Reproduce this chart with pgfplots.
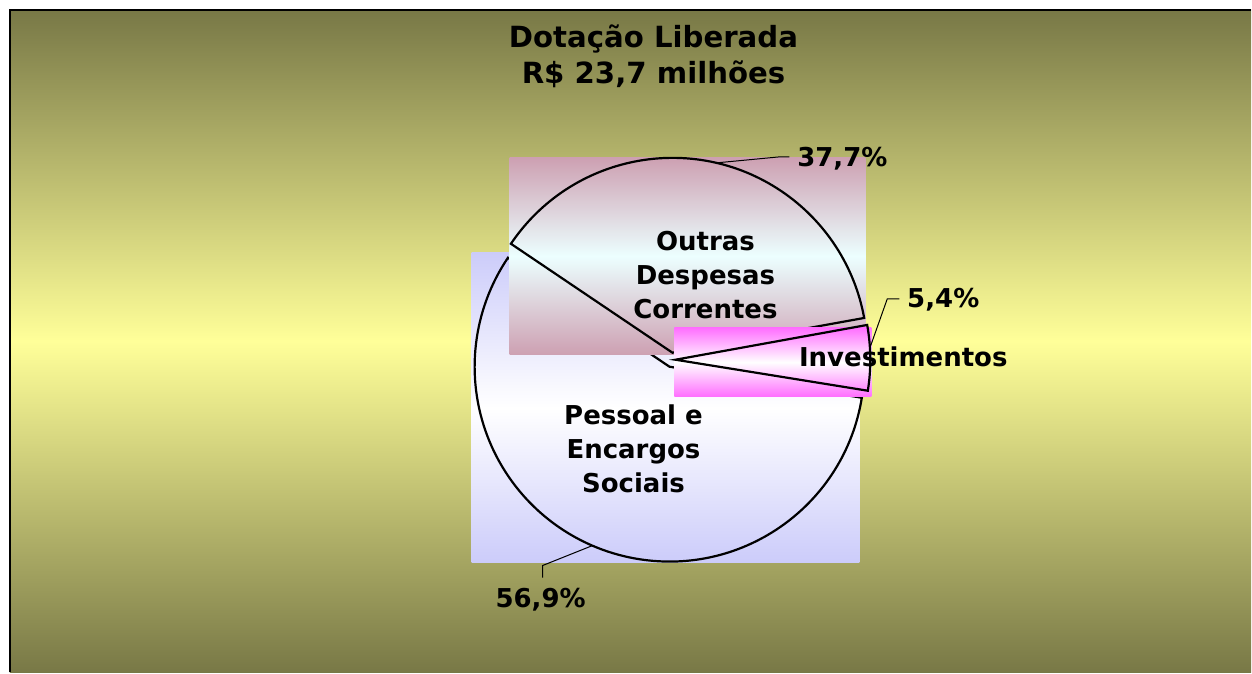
\documentclass[border=0pt]{standalone}
\usepackage{pgfplots}
\pgfplotsset{compat=1.18}
\usepackage{pgfplotstable}
\usepackage{fontspec}
\setmainfont{DejaVu Sans}
\definecolor{bgdark}{RGB}{120,120,70}
\definecolor{bglight}{RGB}{255,255,153}
\definecolor{mauve}{RGB}{205,160,178}
\definecolor{cyanl}{RGB}{236,255,255}
\definecolor{lav}{RGB}{204,204,250}
\definecolor{magl}{RGB}{255,110,255}
\pgfplotstableread{
label value
Outras 37.7
Investimentos 5.4
Pessoal 56.9
}\piedata
\begin{document}
\begin{tikzpicture}
\pgfplotstablegetelem{0}{value}\of\piedata \let\vO\pgfplotsretval
\pgfplotstablegetelem{1}{value}\of\piedata \let\vI\pgfplotsretval
\pgfplotstablegetelem{2}{value}\of\piedata \let\vP\pgfplotsretval
\pgfmathsetmacro{\aZ}{146}
\pgfmathsetmacro{\aA}{\aZ-3.6*\vO}
\pgfmathsetmacro{\aB}{\aA-3.6*\vI}
\pgfmathsetmacro{\aC}{\aB-3.6*\vP}
\begin{axis}[at={(0,0)}, anchor=south west, scale only axis,
  width=626pt, height=336.5pt, xmin=0, xmax=1252, ymin=0, ymax=673,
  y dir=reverse, axis lines=none, clip=false]
% background
\fill[white] (axis cs:0,0) rectangle (axis cs:1252,673);
\shade[top color=bgdark, bottom color=bgdark, middle color=bglight] (axis cs:10,10) rectangle (axis cs:1252,673);
\draw[black, line width=1pt] (axis cs:10,673) -- (axis cs:10,10) -- (axis cs:1252,10);
% Pessoal
\shade[top color=lav, bottom color=lav, middle color=white] (axis cs:472,253) rectangle (axis cs:860,563);
\draw[line width=1.1pt] (axis cs:670,367) -- ++(\aB:97.5pt) arc[start angle=\aB, end angle=\aC, radius=97.5pt] -- cycle;
% Outras
\shade[top color=mauve, bottom color=mauve, middle color=cyanl] (axis cs:510,158) rectangle (axis cs:866,355);
\draw[line width=1.1pt] (axis cs:673,353) -- ++(\aZ:97.5pt) arc[start angle=\aZ, end angle=\aA, radius=97.5pt] -- cycle;
% Investimentos
\shade[top color=magl, bottom color=magl, middle color=white] (axis cs:675,328) rectangle (axis cs:872,397);
\draw[line width=1.1pt] (axis cs:676,360) -- ++(\aA:97.5pt) arc[start angle=\aA, end angle=\aB, radius=97.5pt] -- cycle;
% leader lines
\draw[line width=0.5pt] (axis cs:717,163) -- (axis cs:780,157) -- (axis cs:790,157);
\draw[line width=0.5pt] (axis cs:871,347) -- (axis cs:888,299) -- (axis cs:900,299);
\draw[line width=0.5pt] (axis cs:593,546) -- (axis cs:543,566) -- (axis cs:543,578);
% labels
\begin{scope}[every node/.style={font=\bfseries\fontsize{13}{17}\selectfont, align=center, inner sep=0pt}]
\node at (axis cs:706,275) {Outras\\Despesas\\Correntes};
\node at (axis cs:634,449) {Pessoal e\\Encargos\\Sociais};
\node at (axis cs:904,357) {Investimentos};
\node at (axis cs:843,159) {37,7\%};
\node at (axis cs:944,300) {5,4\%};
\node at (axis cs:541,600) {56,9\%};
\end{scope}
\node[font=\bfseries\fontsize{14.6}{18}\selectfont, align=center, inner sep=0pt] at (axis cs:654,56) {Dotação Liberada\\R\$ 23,7 milhões};
\end{axis}
\end{tikzpicture}
\end{document}
